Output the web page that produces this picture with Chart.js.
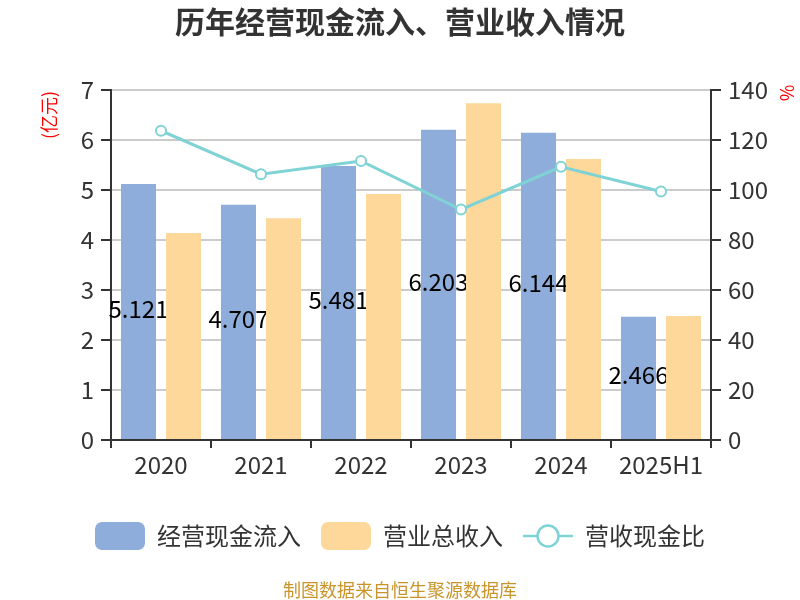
<!DOCTYPE html>
<html>
<head>
<meta charset="utf-8">
<script src="https://cdn.jsdelivr.net/npm/chart.js@4.4.1/dist/chart.umd.min.js"></script>
<style>
  body { margin: 0; background: #fff; }
  #wrap { width: 800px; height: 600px; position: relative; }
</style>
</head>
<body>
<div id="wrap"><canvas id="graph_cash"></canvas></div>
<script>
/*------------------------------*/
/*            Données           */
/*------------------------------*/
var years = ['2020', '2021', '2022', '2023', '2024', '2025H1']
var cashIn = [5.121, 4.707, 5.481, 6.203, 6.144, 2.466]      // 经营现金流入 (亿元)
var revenue = [4.14, 4.43, 4.92, 6.73, 5.62, 2.48]           // 营业总收入 (亿元)
var ratio = [123.7, 106.3, 111.6, 92.2, 109.3, 99.4]         // 营收现金比 (%)

var BLUE = 'rgb(142, 173, 219)'
var ORANGE = 'rgb(254, 216, 154)'
var TEAL = 'rgb(128, 211, 212)'
var FONT = "'Noto Sans CJK SC', 'Noto Sans', sans-serif"

/*------------------------------*/
/*      Pictos de la légende    */
/*------------------------------*/
function boxIcon(color) {
    var c = document.createElement('canvas')
    c.width = 50; c.height = 28
    var g = c.getContext('2d')
    g.fillStyle = color
    g.beginPath()
    g.roundRect(0, 0, 50, 28, 7)
    g.fill()
    return c
}
function lineIcon(color) {
    var c = document.createElement('canvas')
    c.width = 50; c.height = 28
    var g = c.getContext('2d')
    g.strokeStyle = color
    g.lineWidth = 2.5
    g.beginPath(); g.moveTo(0, 14); g.lineTo(50, 14); g.stroke()
    g.fillStyle = '#fff'
    g.beginPath(); g.arc(25, 14, 10.5, 0, Math.PI * 2); g.fill(); g.stroke()
    return c
}
var icons = [boxIcon(BLUE), boxIcon(ORANGE), lineIcon(TEAL)]

/*------------------------------*/
/*       Plugin textes          */
/*------------------------------*/
var extras = {
    id: 'extras',
    afterDatasetDraw: function (chart, args) {
        if (args.index !== 0) return
        var ctx = chart.ctx
        ctx.save()
        ctx.font = '24px ' + FONT
        ctx.fillStyle = '#000'
        ctx.textAlign = 'center'
        ctx.textBaseline = 'middle'
        args.meta.data.forEach(function (bar, i) {
            ctx.fillText(cashIn[i].toFixed(3), bar.x, (bar.y + bar.base) / 2 - 3)
        })
        ctx.restore()
        // les barres orange repassent par-dessus les étiquettes
        chart.getDatasetMeta(1).data.forEach(function (b) { b.draw(chart.ctx, chart.chartArea) })
    },
    afterDraw: function (chart) {
        var ctx = chart.ctx
        ctx.save()
        ctx.textAlign = 'center'
        ctx.textBaseline = 'middle'
        ctx.fillStyle = '#333'
        ctx.font = 'bold 30px ' + FONT
        ctx.fillText('历年经营现金流入、营业收入情况', 400, 22)
        ctx.fillStyle = '#c9952b'
        ctx.font = '18px ' + FONT
        ctx.fillText('制图数据来自恒生聚源数据库', 400, 590)
        ctx.fillStyle = '#ff0000'
        ctx.font = '18px ' + FONT
        ctx.translate(49, 115)
        ctx.rotate(-Math.PI / 2)
        ctx.fillText('(亿元)', 0, 0)
        ctx.setTransform(1, 0, 0, 1, 0, 0)
        ctx.translate(787, 93)
        ctx.rotate(-Math.PI / 2)
        ctx.fillText('%', 0, 0)
        ctx.restore()
    }
}

/*------------------------------*/
/*            Graphe            */
/*------------------------------*/
var ctx_cash = document.getElementById('graph_cash').getContext('2d')

var data_cash = {
    labels: years,
    datasets: [
        {
            type: 'bar',
            label: '经营现金流入',
            data: cashIn,
            backgroundColor: BLUE,
            yAxisID: 'y',
            order: 2
        },
        {
            type: 'bar',
            label: '营业总收入',
            data: revenue,
            backgroundColor: ORANGE,
            yAxisID: 'y',
            order: 3
        },
        {
            type: 'line',
            label: '营收现金比',
            data: ratio,
            borderColor: TEAL,
            backgroundColor: '#fff',
            borderWidth: 3,
            pointRadius: 5,
            pointBorderWidth: 2,
            pointBackgroundColor: '#fff',
            pointBorderColor: TEAL,
            yAxisID: 'y1',
            order: 1
        }
    ]
}

var tickFont = { family: FONT, size: 24 }

var config_cash = {
    data: data_cash,
    plugins: [extras],
    options: {
        responsive: true,
        maintainAspectRatio: false,
        animation: false,
        layout: { padding: { top: 90, bottom: 42, left: 0, right: 0 } },
        datasets: {
            bar: { categoryPercentage: 0.9, barPercentage: 0.778 }
        },
        scales: {
            x: {
                grid: { drawOnChartArea: false, tickColor: '#333', tickLength: 8, lineWidth: 2 },
                border: { color: '#333', width: 2 },
                ticks: { font: tickFont, color: '#333', padding: 2 },
                afterFit: function (s) { s.height = 64 }
            },
            y: {
                position: 'left',
                min: 0, max: 7,
                ticks: { stepSize: 1, font: tickFont, color: '#333', padding: 7 },
                grid: { color: '#cccccc', lineWidth: 2, tickColor: '#333', tickLength: 10 },
                border: { color: '#333', width: 2 },
                afterFit: function (s) { s.width = 111 }
            },
            y1: {
                position: 'right',
                min: 0, max: 140,
                ticks: { stepSize: 20, font: tickFont, color: '#333', padding: 7 },
                grid: { drawOnChartArea: false, tickColor: '#333', tickLength: 10, lineWidth: 2 },
                border: { color: '#333', width: 2 },
                afterFit: function (s) { s.width = 89 }
            }
        },
        plugins: {
            title: { display: false },
            tooltip: { enabled: false },
            legend: {
                position: 'bottom',
                labels: {
                    usePointStyle: true,
                    pointStyleWidth: 50,
                    padding: 20,
                    color: '#333',
                    font: { family: FONT, size: 24 },
                    sort: function (a, b) { return a.datasetIndex - b.datasetIndex },
                    generateLabels: function (chart) {
                        var items = Chart.defaults.plugins.legend.labels.generateLabels(chart)
                        items.forEach(function (it) {
                            it.pointStyle = icons[it.datasetIndex]
                            it.rotation = 0
                        })
                        return items
                    }
                }
            }
        }
    }
}
var graph_cash = new Chart(ctx_cash, config_cash)
/*------------------------------*/
/*------------------------------*/
</script>
</body>
</html>
